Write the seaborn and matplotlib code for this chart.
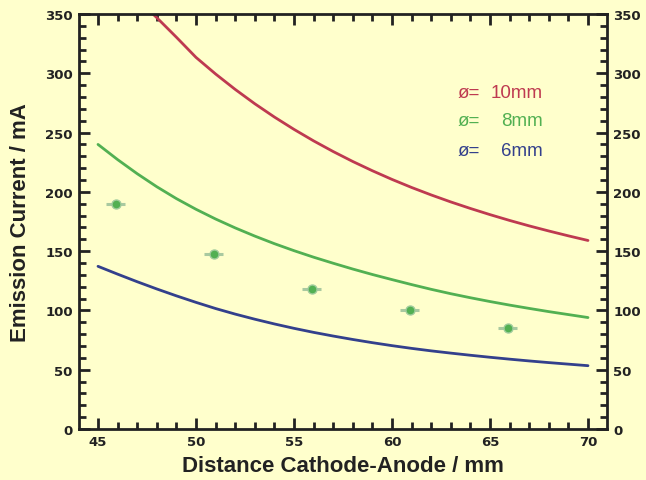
import numpy as np
import pandas as pd
import matplotlib
matplotlib.use("Agg")
import matplotlib.pyplot as plt
import seaborn as sns
from matplotlib.ticker import MultipleLocator

# ---- data ----
d_red = [47.8, 48, 49, 50, 51, 52, 53, 54, 55, 56, 57, 58, 59, 60, 61, 62, 63, 64, 65, 66, 67, 68, 69, 70]
i_red = [350, 346.9, 330.4, 313.4, 299.4, 286.4, 274.3, 263.1, 252.7, 243.0, 234.0, 225.6, 217.8,
         210.5, 203.7, 197.4, 191.5, 186.0, 180.8, 175.9, 171.3, 167.0, 162.9, 159.0]

d_grid = [45, 46, 47, 48, 49, 50, 51, 52, 53, 54, 55, 56, 57, 58, 59, 60, 61, 62, 63, 64, 65, 66, 67, 68, 69, 70]
i_green = [240, 227.2, 215.3, 204.3, 194.3, 185.3, 177.1, 169.6, 162.7, 156.3, 150.4, 144.9, 139.8,
           134.9, 130.3, 126.0, 121.8, 117.8, 114.1, 110.7, 107.5, 104.5, 101.7, 99.0, 96.5, 94.0]
i_blue = [137.2, 130.6, 124.2, 118.1, 112.3, 106.8, 101.6, 96.9, 92.6, 88.6, 84.9, 81.5, 78.4,
          75.5, 72.8, 70.3, 68.0, 65.9, 64.0, 62.2, 60.5, 58.9, 57.4, 56.0, 54.7, 53.4]

meas_d = [45.9, 50.9, 55.9, 60.9, 65.9]
meas_i = [190, 148, 118, 100, 85]
meas_xerr = [0.5, 0.5, 0.5, 0.5, 0.5]

legend_labels = ["10mm", "8mm", "6mm"]
x_ticks = [45, 50, 55, 60, 65, 70]
y_ticks = [0, 50, 100, 150, 200, 250, 300, 350]

BG = "#FFFFCC"
RED = "#BE3A50"
GREEN = "#52B052"
BLUE = "#33408C"
INK = "#222222"

sns.set_theme(style="ticks")
plt.rcParams["font.family"] = ["DejaVu Sans"]

fig = plt.figure(figsize=(6.46, 4.81), dpi=100, facecolor=BG)
ax = fig.add_axes([79/646, 1-430/481, (607-79)/646, (430-15)/481])
ax.set_facecolor(BG)

df_red = pd.DataFrame({"d": d_red, "I": i_red})
df_gb = pd.DataFrame({"d": d_grid, "green": i_green, "blue": i_blue})

for df, col, c in [(df_red, "I", RED), (df_gb, "green", GREEN), (df_gb, "blue", BLUE)]:
    sns.lineplot(data=df, x="d", y=col, ax=ax, color=c, lw=2.0, legend=False,
                 solid_capstyle="round", solid_joinstyle="round")

ax.errorbar(meas_d, meas_i, xerr=meas_xerr, fmt="none", ecolor="#A9C9A0", elinewidth=2.2, capsize=0, zorder=3)
sns.scatterplot(x=meas_d, y=meas_i, ax=ax, color=GREEN, s=42, edgecolor="#A0CC9C", linewidth=1.0, zorder=4)

ax.set_xlim(44.03, 70.97)
ax.set_ylim(0, 350)
ax.set_xticks(x_ticks)
ax.set_yticks(y_ticks)
ax.xaxis.set_minor_locator(MultipleLocator(1))
ax.yaxis.set_minor_locator(MultipleLocator(10))

for s in ax.spines.values():
    s.set_visible(True)
    s.set_color(INK)
    s.set_linewidth(2.0)

ax.tick_params(which="both", direction="in", top=True, right=True, labelright=True,
               color=INK, width=2.0)
ax.tick_params(which="major", length=8, labelsize=9.5, labelcolor=INK, pad=4.5)
ax.tick_params(which="minor", length=5)
for t in ax.xaxis.get_major_ticks() + ax.yaxis.get_major_ticks():
    t.label1.set_fontweight("bold")
    t.label2.set_fontweight("bold")

lab_font = ["Liberation Sans", "DejaVu Sans"]
ax.set_xlabel("Distance Cathode-Anode / mm", fontsize=16, fontweight="bold", color=INK, family=lab_font)
ax.set_ylabel("Emission Current / mA", fontsize=16, fontweight="bold", color=INK, family=lab_font)
ax.xaxis.set_label_coords(0.5, -(466 - 430) / 415)
ax.xaxis.label.set_va("center")
ax.yaxis.set_label_coords((21 - 79) / 528, 0.5)
ax.yaxis.label.set_va("center")
ax.yaxis.label.set_ha("center")

for lab, c, yv in zip(legend_labels, [RED, GREEN, BLUE], [284, 260, 235]):
    ax.text(63.37, yv, "ø=", color=c, fontsize=13.5, ha="left", va="center", family=lab_font)
    ax.text(67.7, yv, lab, color=c, fontsize=13.5, ha="right", va="center", family=lab_font)

fig.savefig("out.png", dpi=100, facecolor=BG)
